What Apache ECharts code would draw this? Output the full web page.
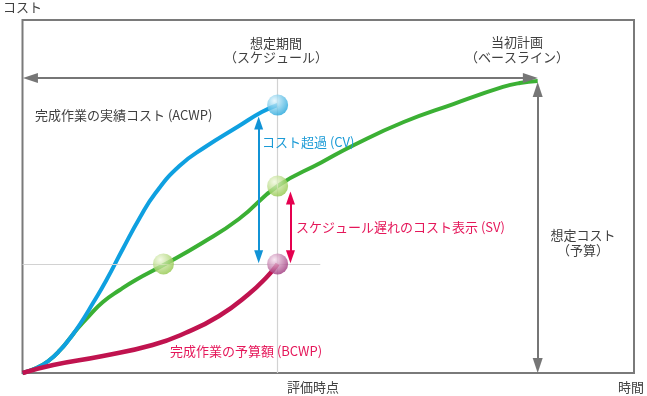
<!DOCTYPE html>
<html>
<head>
<meta charset="utf-8">
<script src="https://cdn.jsdelivr.net/npm/echarts@6/dist/echarts.min.js"></script>
<style>
html,body{margin:0;padding:0;background:#fff;}
#chart{width:647px;height:396px;}
</style>
</head>
<body>
<div id="chart"></div>
<script>
// Time axis 0..100, cost axis 0..100 (arbitrary units)
const bcwsCurve = [[0,0],[2.27,1.42],[4.22,3.40],[6.17,6.52],[7.79,9.92],[9.09,12.75],[10.71,15.86],[13.15,20.11],[15.91,23.51],[18.51,26.35],[23.05,30.59],[29.38,36.83],[35.39,43.63],[41.72,52.97],[48.86,59.63],[54.22,64.59],[62.34,71.10],[70.45,76.20],[78.57,81.03],[81.33,82.15],[84.25,82.7]];
const acwpCurve = [[0,0],[2.27,1.42],[4.22,3.40],[6.17,6.52],[7.79,9.92],[9.42,13.88],[11.53,19.83],[13.64,26.06],[16.40,35.13],[19.16,43.91],[21.75,50.99],[25.65,58.64],[29.87,64.02],[35.39,69.97],[39.12,73.94],[41.72,75.92]];
const bcwpCurve = [[0,0],[5.03,2.27],[13.15,4.82],[21.27,7.93],[26.62,11.33],[32.14,16.15],[37.01,22.38],[40.10,27.48],[41.72,30.9]];

const evalTime = 41.72;     // 評価時点
const endTime = 84.25;      // 当初計画の終了
const budget = 82.7;        // 想定コスト（予算）
const scheduleLevel = 83.6; // 想定期間の矢印の高さ
const acwpNow = 75.92;
const bcwsNow = 52.97;
const bcwpNow = 30.9;
const bcwsMatchTime = 23.05; // 計画が BCWP と同じ値になる時点
const guideEnd = 48.7;

const textColor = '#404040';
const font = '"Noto Sans CJK JP", "Noto Sans CJK SC", sans-serif';

const chart = echarts.init(document.getElementById('chart'));

function sphere(light, dark){
  return {type:'radial', x:0.35, y:0.3, r:0.75, colorStops:[{offset:0,color:light},{offset:1,color:dark}]};
}
function txt(x, y, text, color, align){
  return {type:'text', x:x, y:y, z:100, style:{text:text, fill:color||textColor, font:'13px ' + font, textAlign:align||'left', textVerticalAlign:'middle'}};
}

chart.setOption({
  animation:false,
  grid:{left:19, right:12, top:20, bottom:23, show:true, borderColor:'#7a7a7a', borderWidth:2, backgroundColor:'transparent'},
  xAxis:{type:'value', min:0, max:100, axisLine:{show:false}, axisTick:{show:false}, axisLabel:{show:false}, splitLine:{show:false},
    name:'時間', nameLocation:'end', nameGap:10,
    nameTextStyle:{color:textColor, fontFamily:font, fontSize:13, align:'right', verticalAlign:'top', padding:[8,0,0,0]}},
  yAxis:{type:'value', min:0, max:100, axisLine:{show:false}, axisTick:{show:false}, axisLabel:{show:false}, splitLine:{show:false},
    name:'コスト', nameLocation:'end', nameGap:6,
    nameTextStyle:{color:textColor, fontFamily:font, fontSize:13}},
  series:[
    {type:'line', data:[], z:1, silent:true,
      markLine:{silent:true, symbol:['none','none'], label:{show:false},
        lineStyle:{color:'#d2d2d2', width:1.2, type:'solid'},
        data:[
          [{coord:[evalTime,0]},{coord:[evalTime,scheduleLevel]}],
          [{coord:[0,bcwpNow]},{coord:[guideEnd,bcwpNow]}]
        ]}},
    {type:'line', data:[], z:2, silent:true,
      markLine:{silent:true, symbol:['triangle','triangle'], symbolSize:[10,15], label:{show:false},
        lineStyle:{color:'#767676', width:2, type:'solid'},
        data:[
          [{coord:[1.3,scheduleLevel]},{coord:[endTime-1.2,scheduleLevel]}],
          [{coord:[endTime,2.1]},{coord:[endTime,budget-2.4]}]
        ]}},
    {name:'BCWS', type:'line', data:bcwsCurve, smooth:0.5, showSymbol:false, z:3,
      lineStyle:{color:'#3bb034', width:4}},
    {name:'ACWP', type:'line', data:acwpCurve, smooth:0.5, showSymbol:false, z:4,
      lineStyle:{color:'#0fa0e0', width:4}},
    {name:'BCWP', type:'line', data:bcwpCurve, smooth:0.5, showSymbol:false, z:5,
      lineStyle:{color:'#c0134f', width:4.5}},
    {type:'line', data:[], z:6, silent:true,
      markLine:{silent:true, symbol:['triangle','triangle'], symbolSize:[9,13], label:{show:false},
        data:[
          [{coord:[evalTime-3.1,bcwpNow+2.0], lineStyle:{color:'#1193d6', width:2, type:'solid'}},{coord:[evalTime-3.1,acwpNow-5.1]}],
          [{coord:[evalTime+2.1,bcwpNow+2.0], lineStyle:{color:'#e5004f', width:2, type:'solid'}},{coord:[evalTime+2.1,bcwsNow-3.4]}]
        ]}},
    {type:'scatter', z:10, symbolSize:21, silent:true,
      data:[
        {value:[evalTime,acwpNow], itemStyle:{color:sphere('#e4f6fd','#1ca3da')}},
        {value:[evalTime,bcwsNow], itemStyle:{color:sphere('#f1f8de','#8fc646')}},
        {value:[evalTime,bcwpNow], itemStyle:{color:sphere('#f6e2ef','#9c3179')}},
        {value:[bcwsMatchTime,bcwpNow], itemStyle:{color:sphere('#f1f8de','#8fc646')}}
      ]}
  ],
  graphic:[
    txt(276, 43, '想定期間', null, 'center'),
    txt(276, 57, '（スケジュール）', null, 'center'),
    txt(517, 42, '当初計画', null, 'center'),
    txt(517, 57, '（ベースライン）', null, 'center'),
    txt(35, 115, '完成作業の実績コスト (ACWP)'),
    txt(262, 142, 'コスト超過 (CV)', '#1a9ad6'),
    txt(296, 227, 'スケジュール遅れのコスト表示 (SV)', '#e5175a'),
    txt(170, 351, '完成作業の予算額 (BCWP)', '#e5175a'),
    txt(583, 235, '想定コスト', null, 'center'),
    txt(583, 250, '（予算）', null, 'center'),
    txt(287, 387, '評価時点')
  ]
});
</script>
</body>
</html>
